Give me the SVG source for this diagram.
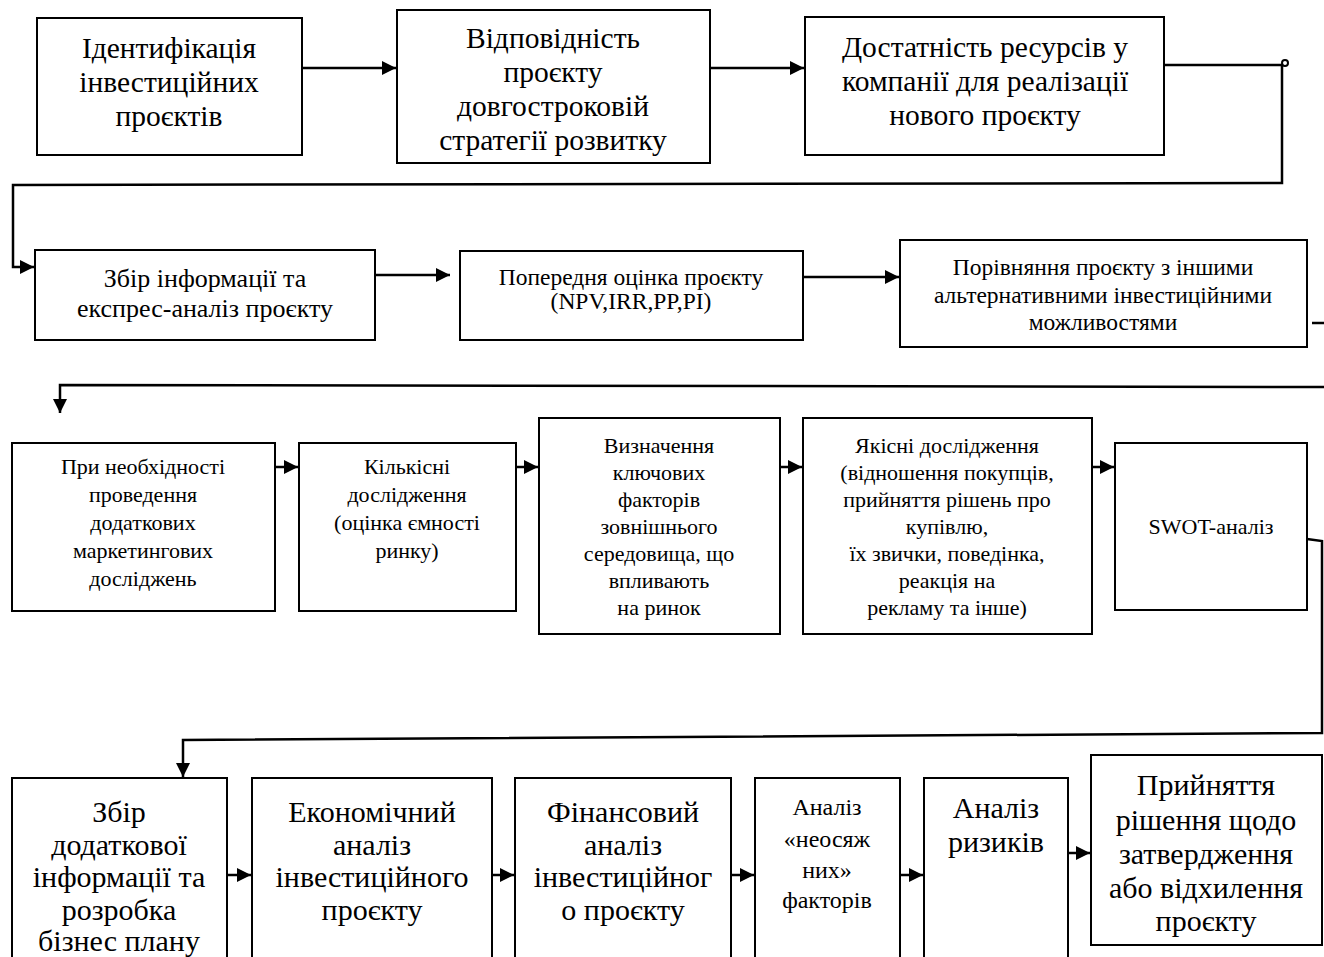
<svg xmlns="http://www.w3.org/2000/svg" width="1324" height="957" viewBox="0 0 1324 957">
<style>
.box{fill:#fff;stroke:#000;stroke-width:2}
.conn{fill:none;stroke:#000;stroke-width:2.5}
text{font-family:"Liberation Serif","Times New Roman",serif;fill:#000;text-anchor:middle}
.f1{font-size:29.5px}
.f2{font-size:26px}
.f3{font-size:23.5px}
.f4{font-size:22px}
.f5{font-size:30px}
.f6{font-size:24px}
</style>
<defs>
<marker id="ah" markerUnits="userSpaceOnUse" markerWidth="14" markerHeight="14" refX="14" refY="7" orient="auto">
<path d="M0,0 L14,7 L0,14 z" fill="#000"/>
</marker>
</defs>
<rect width="1324" height="957" fill="#fff"/>
<g id="connectors">
<path class="conn" d="M1164,65 L1282,65 L1282,183 L13,185 L13,267 L34,267" marker-end="url(#ah)"/>
<circle cx="1285" cy="63" r="3" fill="none" stroke="#000" stroke-width="2"/>
<path class="conn" d="M302,68 L396,68" marker-end="url(#ah)"/>
<path class="conn" d="M710,68 L804,68" marker-end="url(#ah)"/>
<path class="conn" d="M375,275 L450,275" marker-end="url(#ah)"/>
<path class="conn" d="M803,277 L899,277" marker-end="url(#ah)"/>
<path class="conn" d="M1312,323 L1324,323"/>
<path class="conn" d="M1324,387 L60,385 L60,413" marker-end="url(#ah)"/>
<path class="conn" d="M275,467 L298,467" marker-end="url(#ah)"/>
<path class="conn" d="M516,467 L538,467" marker-end="url(#ah)"/>
<path class="conn" d="M780,467 L802,467" marker-end="url(#ah)"/>
<path class="conn" d="M1092,467 L1114,467" marker-end="url(#ah)"/>
<path class="conn" d="M1307,539 L1322,541 L1322,733 L183,740 L183,777" marker-end="url(#ah)"/>
<path class="conn" d="M227,875 L251,875" marker-end="url(#ah)"/>
<path class="conn" d="M492,875 L514,875" marker-end="url(#ah)"/>
<path class="conn" d="M731,875 L754,875" marker-end="url(#ah)"/>
<path class="conn" d="M900,875 L923,875" marker-end="url(#ah)"/>
<path class="conn" d="M1068,853 L1090,853" marker-end="url(#ah)"/>
</g>
<g id="n1"><rect class="box" x="37" y="18" width="265" height="137"/>
<text class="f1" x="169" y="58">Ідентифікація</text><text class="f1" x="169" y="92">інвестиційних</text><text class="f1" x="169" y="126">проєктів</text></g>
<g id="n2"><rect class="box" x="397" y="10" width="313" height="153"/>
<text class="f1" x="553" y="48">Відповідність</text><text class="f1" x="553" y="82">проєкту</text><text class="f1" x="553" y="116">довгостроковій</text><text class="f1" x="553" y="150">стратегії розвитку</text></g>
<g id="n3"><rect class="box" x="805" y="17" width="359" height="138"/>
<text class="f1" x="985" y="57">Достатність ресурсів у</text><text class="f1" x="985" y="91">компанії для реалізації</text><text class="f1" x="985" y="125">нового проєкту</text></g>
<g id="n4"><rect class="box" x="35" y="250" width="340" height="90"/>
<text class="f2" x="205" y="287">Збір інформації та</text><text class="f2" x="205" y="317">експрес-аналіз проєкту</text></g>
<g id="n5"><rect class="box" x="460" y="251" width="343" height="89"/>
<text class="f3" x="631" y="285">Попередня оцінка проєкту</text><text class="f3" x="631" y="309">(NPV,IRR,PP,PI)</text></g>
<g id="n6"><rect class="box" x="900" y="240" width="407" height="107"/>
<text class="f3" x="1103" y="275">Порівняння проєкту з іншими</text><text class="f3" x="1103" y="303">альтернативними інвестиційними</text><text class="f3" x="1103" y="330">можливостями</text></g>
<g id="n7"><rect class="box" x="12" y="443" width="263" height="168"/>
<text class="f4" x="143" y="474">При необхідності</text><text class="f4" x="143" y="502">проведення</text><text class="f4" x="143" y="530">додаткових</text><text class="f4" x="143" y="558">маркетингових</text><text class="f4" x="143" y="586">досліджень</text></g>
<g id="n8"><rect class="box" x="299" y="443" width="217" height="168"/>
<text class="f4" x="407" y="474">Кількісні</text><text class="f4" x="407" y="502">дослідження</text><text class="f4" x="407" y="530">(оцінка ємності</text><text class="f4" x="407" y="558">ринку)</text></g>
<g id="n9"><rect class="box" x="539" y="418" width="241" height="216"/>
<text class="f4" x="659" y="453">Визначення</text><text class="f4" x="659" y="480">ключових</text><text class="f4" x="659" y="507">факторів</text><text class="f4" x="659" y="534">зовнішнього</text><text class="f4" x="659" y="561">середовища, що</text><text class="f4" x="659" y="588">впливають</text><text class="f4" x="659" y="615">на ринок</text></g>
<g id="n10"><rect class="box" x="803" y="418" width="289" height="216"/>
<text class="f4" x="947" y="453">Якісні дослідження</text><text class="f4" x="947" y="480">(відношення покупців,</text><text class="f4" x="947" y="507">прийняття рішень про</text><text class="f4" x="947" y="534">купівлю,</text><text class="f4" x="947" y="561">їх звички, поведінка,</text><text class="f4" x="947" y="588">реакція на</text><text class="f4" x="947" y="615">рекламу та інше)</text></g>
<g id="n11"><rect class="box" x="1115" y="443" width="192" height="167"/>
<text class="f4" x="1211" y="534">SWOT-аналіз</text></g>
<g id="n12"><rect class="box" x="12" y="778" width="215" height="190"/>
<text class="f5" x="119" y="822">Збір</text><text class="f5" x="119" y="855">додаткової</text><text class="f5" x="119" y="887">інформації та</text><text class="f5" x="119" y="920">розробка</text><text class="f5" x="119" y="951">бізнес плану</text></g>
<g id="n13"><rect class="box" x="252" y="778" width="240" height="190"/>
<text class="f5" x="372" y="822">Економічний</text><text class="f5" x="372" y="855">аналіз</text><text class="f5" x="372" y="887">інвестиційного</text><text class="f5" x="372" y="920">проєкту</text></g>
<g id="n14"><rect class="box" x="515" y="778" width="216" height="190"/>
<text class="f5" x="623" y="822">Фінансовий</text><text class="f5" x="623" y="855">аналіз</text><text class="f5" x="623" y="887">інвестиційног</text><text class="f5" x="623" y="920">о проєкту</text></g>
<g id="n15"><rect class="box" x="755" y="778" width="145" height="190"/>
<text class="f6" x="827" y="815">Аналіз</text><text class="f6" x="827" y="847">«неосяж</text><text class="f6" x="827" y="878">них»</text><text class="f6" x="827" y="908">факторів</text></g>
<g id="n16"><rect class="box" x="924" y="778" width="144" height="190"/>
<text class="f5" x="996" y="818">Аналіз</text><text class="f5" x="996" y="852">ризиків</text></g>
<g id="n17"><rect class="box" x="1091" y="755" width="231" height="190"/>
<text class="f5" x="1206" y="795">Прийняття</text><text class="f5" x="1206" y="830">рішення щодо</text><text class="f5" x="1206" y="864">затвердження</text><text class="f5" x="1206" y="898">або відхилення</text><text class="f5" x="1206" y="931">проєкту</text></g>
</svg>
